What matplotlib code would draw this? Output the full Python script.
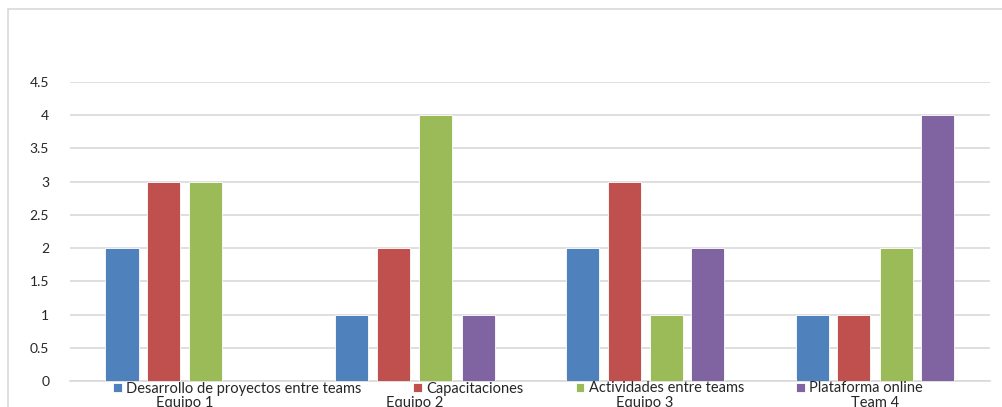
import numpy as np
import matplotlib.pyplot as plt
from matplotlib.patches import Rectangle

plt.rcParams['font.family'] = ['Lato', 'DejaVu Sans']

groups = ['Equipo 1', 'Equipo 2', 'Equipo 3', 'Team 4']
series = ['Desarrollo de proyectos entre teams', 'Capacitaciones',
          'Actividades entre teams', 'Plataforma online']
desarrollo = [2, 1, 2, 1]
capacitaciones = [3, 2, 3, 1]
actividades = [3, 4, 1, 2]
plataforma = [0, 1, 2, 4]
yticks = [0, 0.5, 1, 1.5, 2, 2.5, 3, 3.5, 4, 4.5]

colors = ['#4F81BD', '#C0504D', '#9BBB59', '#8064A2']
values = [desarrollo, capacitaciones, actividades, plataforma]

W, H = 1003, 407
fig = plt.figure(figsize=(W / 100, H / 100), dpi=100)

# outer chart frame (right and bottom edges run off the image)
fig.patches.append(Rectangle((8 / W, -0.1), 1.2, (H - 9) / H + 0.1,
                             transform=fig.transFigure, fill=False,
                             edgecolor='#d9d9d9', linewidth=1.2))

ax = fig.add_axes([70 / W, 26 / H, 920 / W, (381 - 82) / H])
x = np.arange(len(groups))
pitch = 42 / 230
width = 33 / 230
for i, (vals, c, name) in enumerate(zip(values, colors, series)):
    ax.bar(x + (i - 1.5) * pitch, vals, width, color=c, label=name,
           edgecolor='white', linewidth=0.6, zorder=3)

ax.set_xlim(-0.5, len(groups) - 0.5)
ax.set_ylim(0, 4.5)
ax.set_yticks(yticks)
ax.set_yticklabels([f'{t:g}' for t in yticks])
ax.set_xticks(x)
ax.set_xticklabels(groups)
ax.tick_params(axis='y', length=0, pad=15, labelsize=10, colors='#262626')
ax.tick_params(axis='x', length=0, pad=11, labelsize=10.5, colors='#262626')
ax.yaxis.grid(True, color='#d9d9d9', linewidth=1.2, zorder=0)
for s in ['top', 'right', 'left']:
    ax.spines[s].set_visible(False)
ax.spines['bottom'].set_color('#d9d9d9')
ax.spines['bottom'].set_linewidth(1.2)

fig.legend(loc='center', bbox_to_anchor=(518 / W, 18.5 / H), ncol=4,
           frameon=False, fontsize=10.5, handlelength=0.6, handleheight=0.6,
           handletextpad=0.3, columnspacing=3.55, borderpad=0,
           labelcolor='#262626')

fig.savefig('out.png', dpi=100)
